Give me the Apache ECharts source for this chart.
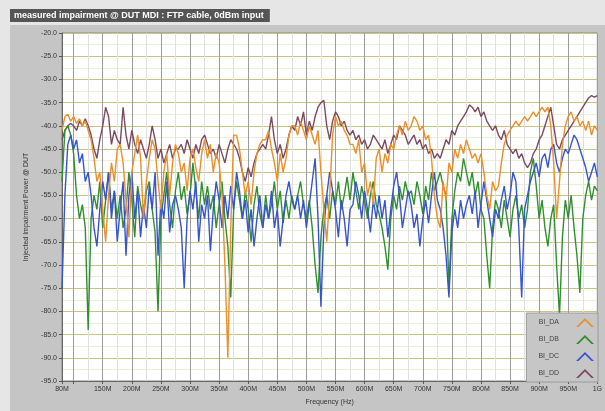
<!DOCTYPE html>
<html>
<head>
<meta charset="utf-8">
<script src="https://cdn.jsdelivr.net/npm/echarts@6/dist/echarts.min.js"></script>
<style>html,body{margin:0;padding:0;background:#e6e6e6;}#c{width:605px;height:411px;}</style>
</head>
<body>
<div id="c"></div>
<script>
// Frequency axis (MHz): sampling start and step of the sweep
var freqStart = 80, freqStep = 5;
var xLabelValues = [80,150,200,250,300,350,400,450,500,550,600,650,700,750,800,850,900,950,1000];
var xTickValues = [80,100,150,200,250,300,350,400,450,500,550,600,650,700,750,800,850,900,950,1000];
var xMinorValues = [125,175,225,275,325,375,425,475,525,575,625,675,725,775,825,875,925,975];
var seriesNames = ['BI_DA','BI_DB','BI_DC','BI_DD'];

var BI_DA = [
-41,-38,-37.5,-39,-38,-39.5,-38.5,-40,-39,-41,
-43,-47,-52,-50,-58,-65,-55,-48,-52,-45,
-44,-48,-56,-64,-50,-46,-42,-47,-60,-52,
-47,-43,-45,-52,-58,-50,-46,-55,-48,-44,
-46,-50,-48,-54,-47,-45,-49,-52,-46,-43,
-47,-44,-50,-46,-48,-55,-70,-90,-62,-42,
-42,-45,-50,-55,-52,-57,-50,-46,-44,-43,
-43,-41,-45,-48,-52,-46,-50,-47,-42,-40,
-40,-42,-39,-41,-43,-40,-42,-44,-41,-50,
-58,-65,-55,-42,-38,-40,-39,-41,-42,-44,
-44,-46,-43,-50,-48,-55,-52,-57,-47,-45,
-50,-46,-48,-44,-45,-42,-40,-42,-39,-41,
-40,-38,-39,-41,-40,-43,-42,-47,-55,-60,
-62,-52,-56,-48,-50,-45,-47,-44,-46,-43,
-45,-47,-46,-48,-46,-50,-55,-58,-52,-54,
-53,-48,-44,-42,-41,-40,-39,-40,-39,-38,
-39,-38,-37,-38,-37,-36,-37,-36,-40,-48,
-60,-52,-44,-40,-38,-37,-39,-38,-40,-39,
-41,-39,-42,-40,-41
];
var BI_DB = [
-52,-41,-40,-42,-46,-55,-60,-57,-62,-84,
-60,-55,-58,-52,-62,-56,-50,-58,-54,-60,
-55,-62,-58,-50,-56,-64,-53,-57,-60,-54,
-52,-58,-63,-80,-60,-55,-50,-57,-62,-54,
-50,-56,-53,-59,-55,-48,-54,-60,-52,-57,
-53,-58,-55,-62,-57,-52,-60,-66,-77,-58,
-52,-56,-60,-54,-58,-65,-57,-53,-59,-62,
-55,-60,-57,-52,-58,-54,-61,-56,-60,-55,
-58,-55,-52,-57,-60,-56,-62,-70,-76,-64,
-58,-55,-60,-54,-57,-52,-58,-55,-51,-56,
-50,-54,-58,-53,-56,-60,-55,-52,-57,-59,
-62,-66,-71,-60,-55,-58,-53,-56,-52,-55,
-54,-57,-52,-55,-59,-53,-56,-50,-54,-52,
-50,-53,-55,-75,-60,-54,-50,-52,-47,-50,
-53,-50,-55,-52,-58,-60,-68,-75,-62,-56,
-58,-62,-56,-60,-64,-58,-55,-60,-57,-62,
-58,-50,-47,-53,-60,-56,-62,-66,-60,-57,
-70,-81,-64,-56,-60,-55,-62,-68,-76,-60,
-55,-52,-56,-53,-54
];
var BI_DC = [
-75,-55,-44,-42,-45,-43,-48,-46,-52,-50,
-55,-62,-66,-58,-52,-56,-50,-60,-54,-65,
-58,-52,-68,-55,-50,-60,-54,-64,-57,-62,
-53,-58,-50,-68,-56,-60,-52,-63,-57,-55,
-58,-62,-75,-60,-54,-58,-52,-65,-57,-60,
-55,-67,-58,-52,-56,-62,-55,-60,-53,-58,
-50,-54,-60,-56,-63,-58,-66,-60,-55,-62,
-57,-60,-54,-62,-58,-66,-60,-55,-52,-56,
-58,-55,-60,-56,-62,-57,-52,-47,-60,-79,
-62,-55,-50,-54,-58,-64,-56,-60,-66,-58,
-57,-52,-55,-60,-54,-58,-63,-56,-60,-55,
-60,-56,-64,-58,-53,-50,-55,-62,-58,-54,
-57,-62,-59,-66,-60,-56,-61,-55,-50,-56,
-58,-62,-68,-77,-63,-58,-62,-56,-60,-57,
-55,-59,-54,-62,-57,-52,-56,-60,-64,-58,
-60,-56,-53,-58,-55,-50,-52,-62,-77,-58,
-55,-52,-50,-48,-51,-47,-46,-49,-45,-44,
-48,-50,-47,-45,-46,-44,-42,-43,-45,-47,
-49,-52,-50,-48,-51
];
var BI_DD = [
-43,-41,-40,-39.5,-40,-41,-39,-40,-38.5,-40,
-42,-45,-47,-43,-40,-36,-38,-44,-41,-43,
-44,-36,-42,-45,-41,-44,-46,-43,-45,-47,
-44,-40,-43,-47,-45,-48,-46,-44,-47,-45,
-45,-44,-46,-43,-45,-47,-44,-46,-43,-42,
-44,-46,-45,-47,-44,-46,-48,-45,-43,-44,
-45,-47,-50,-52,-49,-51,-48,-46,-45,-44,
-45,-42,-38,-43,-46,-44,-47,-45,-42,-40,
-41,-38,-40,-37,-42,-39,-41,-38,-36,-35,
-34.5,-40,-43,-39,-37,-38,-40,-39,-41,-42,
-41,-43,-42,-44,-43,-45,-44,-42,-43,-44,
-45,-43,-46,-44,-42,-43,-40,-41,-42,-44,
-43,-42,-44,-43,-45,-44,-46,-45,-47,-46,
-47,-45,-43,-44,-41,-42,-40,-39,-38,-37,
-35.5,-36,-37,-36,-38,-37,-39,-40,-41,-40,
-42,-43,-41,-44,-45,-46,-45,-47,-46,-48,
-49,-48,-46,-45,-43,-42,-40,-38,-36,-40,
-44,-45,-43,-42,-41,-40,-39,-38,-37,-36,
-35,-34,-33.5,-33.8,-33.5
];

function pairs(vals){ return vals.map(function(v,i){ return [freqStart + i*freqStep, v]; }); }
function labelFor(v){ return v >= 1000 ? (v/1000) + 'G' : v + 'M'; }

var colors = ['#e98f2c','#2f8f2f','#3653d3','#7b4a62'];
var chart = echarts.init(document.getElementById('c'), null, {renderer:'canvas'});
var lineSeries = [BI_DA, BI_DB, BI_DC, BI_DD].map(function(vals, k){
  return {
    name: seriesNames[k], type: 'line', data: pairs(vals), showSymbol: false, symbol: 'none',
    lineStyle: {width: 1.4, color: colors[k]}, itemStyle: {color: colors[k]},
    z: [5,3,4,2][k], animation: false
  };
});
chart.setOption({
  animation: false,
  backgroundColor: '#e6e6e6',
  textStyle: {fontFamily: 'Liberation Sans, Arial, sans-serif'},
  graphic: [
    {type: 'rect', shape: {x: 10, y: 25, width: 595, height: 386}, style: {fill: '#c5c5c5'}, z: -10, silent: true}
  ],
  title: {
    text: 'measured impairment @ DUT MDI : FTP cable, 0dBm input',
    left: 10, top: 9, padding: [2, 6, 2, 4],
    backgroundColor: '#555555',
    textStyle: {color: '#ffffff', fontSize: 9, fontWeight: 'bold', fontFamily: 'Liberation Sans, Arial, sans-serif'}
  },
  legend: {
    data: seriesNames, orient: 'vertical', right: 7, bottom: 29, align: 'right',
    backgroundColor: '#c6c6c6', borderColor: '#9a9a9a', borderWidth: 1,
    padding: [5, 4, 4, 12], itemGap: 8, itemWidth: 18, itemHeight: 9,
    icon: 'path://M0,9 L9,0 L18,9 L15.5,9 L9,2.5 L2.5,9 Z',
    textStyle: {fontSize: 7, color: '#444', padding: [0, 12, 0, 0]}
  },
  grid: {left: 62, top: 33, right: 6, bottom: 29, show: true, backgroundColor: '#ffffff', borderColor: '#888', borderWidth: 1},
  xAxis: [{
    type: 'value', min: 80, max: 1000,
    name: 'Frequency (Hz)', nameLocation: 'middle', nameGap: 18,
    nameTextStyle: {fontSize: 7, color: '#333'},
    axisLine: {show: true, lineStyle: {color: '#666'}},
    axisTick: {show: true, length: 3, customValues: xTickValues, lineStyle: {color: '#555'}},
    axisLabel: {customValues: xLabelValues, fontSize: 7, color: '#333', margin: 5, formatter: labelFor},
    splitLine: {show: true, lineStyle: {color: '#9c9c9c', width: 1}}
  }, {
    type: 'value', min: 80, max: 1000, position: 'bottom',
    axisLine: {show: false}, axisLabel: {show: false},
    axisTick: {show: false, customValues: xMinorValues},
    splitLine: {show: true, lineStyle: {color: '#e0e0e0', width: 1}}
  }],
  yAxis: {
    type: 'value', min: -95, max: -20, interval: 5,
    name: 'Injected Impairment Power @ DUT', nameLocation: 'middle', nameGap: 32, nameRotate: 90,
    nameTextStyle: {fontSize: 7, color: '#333'},
    axisLine: {show: true, lineStyle: {color: '#666'}},
    axisTick: {show: true, length: 3, lineStyle: {color: '#555'}},
    axisLabel: {fontSize: 7, color: '#333', margin: 5, formatter: function(v){ return v.toFixed(1); }},
    splitLine: {show: true, lineStyle: {color: '#c9c482', width: 1}},
    minorTick: {show: false, splitNumber: 2},
    minorSplitLine: {show: true, lineStyle: {color: '#eeedd6', width: 1}}
  },
  series: lineSeries
});
</script>
</body>
</html>
